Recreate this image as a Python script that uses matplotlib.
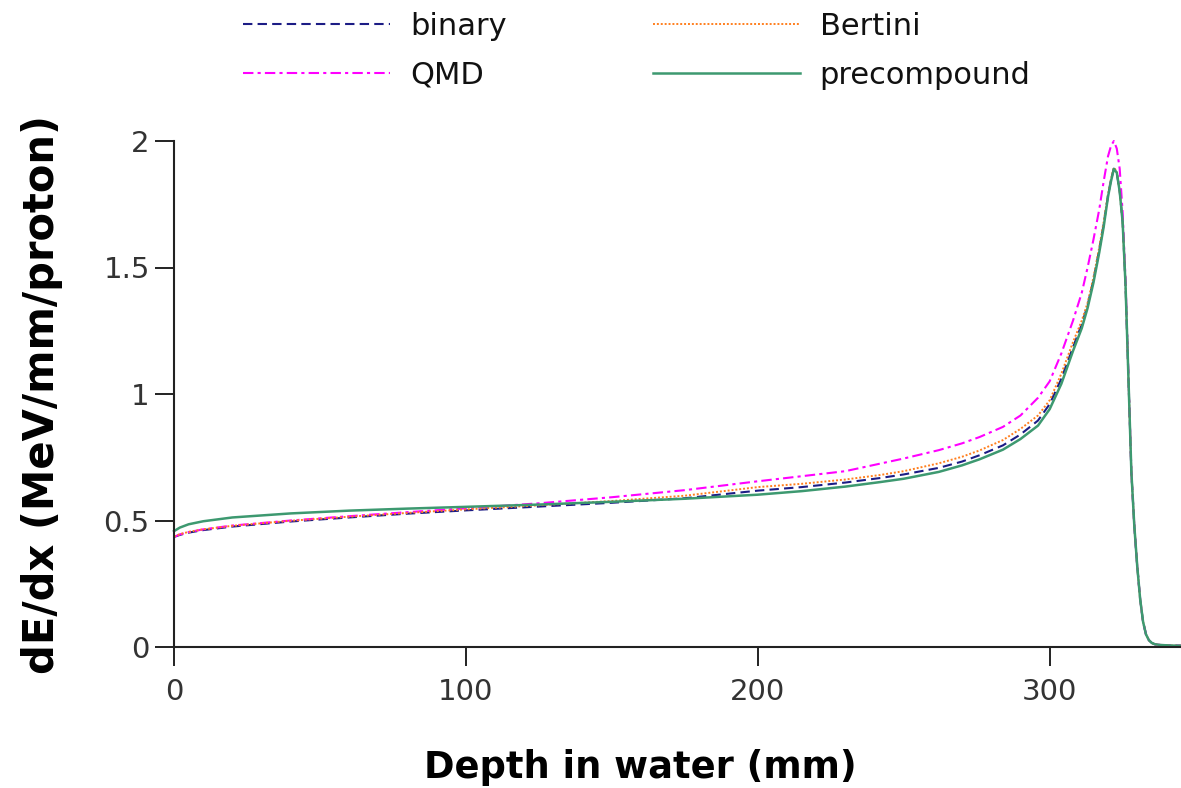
import matplotlib
matplotlib.use("Agg")
import matplotlib.pyplot as plt

# depth in water (mm) and energy deposit per model (MeV/mm/proton)
depth = [0, 2, 5, 10, 20, 40, 60, 80, 100, 125, 150, 175, 200, 215, 230, 242,
         250, 262, 270, 276, 284, 290, 296, 300, 304, 308, 311, 313, 315, 317, 318.5,
         320, 321, 322, 323, 324, 325, 326, 327, 328, 329, 330, 331, 332, 333,
         334, 335, 336, 338, 341, 345]

binary = [0.435, 0.443, 0.452, 0.462, 0.476, 0.496, 0.512, 0.527, 0.540, 0.555,
          0.570, 0.588, 0.618, 0.632, 0.650, 0.668, 0.682, 0.708, 0.733, 0.758,
          0.797, 0.840, 0.895, 0.960, 1.060, 1.185, 1.275, 1.350, 1.450, 1.570,
          1.670, 1.785, 1.845, 1.890, 1.875, 1.800, 1.680, 1.430, 1.060, 0.690,
          0.480, 0.320, 0.190, 0.100, 0.050, 0.027, 0.016, 0.011, 0.008, 0.006, 0.005]

qmd = [0.435, 0.445, 0.454, 0.465, 0.480, 0.500, 0.517, 0.533, 0.548, 0.568,
       0.592, 0.620, 0.655, 0.675, 0.695, 0.725, 0.745, 0.778, 0.805, 0.830,
       0.870, 0.915, 0.985, 1.050, 1.160, 1.290, 1.400, 1.500, 1.610, 1.730,
       1.840, 1.940, 1.980, 2.000, 1.970, 1.890, 1.720, 1.450, 1.070, 0.690,
       0.480, 0.320, 0.190, 0.100, 0.050, 0.027, 0.016, 0.011, 0.008, 0.006, 0.005]

bertini = [0.437, 0.446, 0.455, 0.465, 0.479, 0.499, 0.515, 0.530, 0.544, 0.560,
           0.577, 0.598, 0.632, 0.645, 0.662, 0.680, 0.695, 0.726, 0.752, 0.777,
           0.818, 0.862, 0.915, 0.975, 1.080, 1.205, 1.290, 1.360, 1.460, 1.580,
           1.680, 1.790, 1.850, 1.895, 1.880, 1.800, 1.680, 1.430, 1.060, 0.690,
           0.480, 0.320, 0.190, 0.100, 0.050, 0.027, 0.016, 0.011, 0.008, 0.006, 0.005]

precompound = [0.458, 0.472, 0.485, 0.497, 0.512, 0.528, 0.539, 0.547, 0.554, 0.563,
               0.574, 0.586, 0.602, 0.616, 0.634, 0.652, 0.665, 0.692, 0.718, 0.742,
               0.780, 0.822, 0.875, 0.940, 1.040, 1.170, 1.260, 1.340, 1.440, 1.560,
               1.660, 1.780, 1.840, 1.890, 1.875, 1.800, 1.680, 1.430, 1.060, 0.690,
               0.480, 0.320, 0.190, 0.100, 0.050, 0.027, 0.016, 0.011, 0.008, 0.006, 0.005]

W, H = 1181, 788
fig = plt.figure(figsize=(W / 100, H / 100), dpi=100)
ax = fig.add_axes([174 / W, 1 - 647 / H, 1 - 174 / W, (647 - 141) / H])

ax.plot(depth, binary, color="#1c1c85", lw=1.5, ls=(0, (4.5, 2.5)), label="binary", clip_on=False)
ax.plot(depth, qmd, color="#ff00ff", lw=1.5, ls=(0, (5, 2, 1.5, 2)), label="QMD", clip_on=False)
ax.plot(depth, bertini, color="#ff7f1e", lw=1.4, ls=(0, (1, 1)), label="Bertini", clip_on=False)
ax.plot(depth, precompound, color="#3d9970", lw=1.8, label="precompound", clip_on=False)

ax.set_xlim(0, 345)
ax.set_ylim(0, 2)
ax.set_xticks([0, 100, 200, 300])
ax.set_yticks([0, 0.5, 1, 1.5, 2])
ax.set_yticklabels(["0", "0.5", "1", "1.5", "2"])

for s in ["top", "right"]:
    ax.spines[s].set_visible(False)
for s in ["left", "bottom"]:
    ax.spines[s].set_linewidth(1.5)
    ax.spines[s].set_color("#222222")

ax.tick_params(axis="both", direction="out", length=13.5, width=1.4, color="#222222",
               labelsize=21, labelcolor="#333333", pad=4)
ax.tick_params(axis="x", pad=9)

fig.text(640 / W, 1 - 768 / H, "Depth in water (mm)", ha="center", va="center",
         fontsize=26.5, fontweight="bold")
fig.text(42 / W, 1 - 395 / H, "dE/dx (MeV/mm/proton)", ha="center", va="center",
         rotation=90, fontsize=30, fontweight="bold")

fig.legend(loc="center", bbox_to_anchor=(637 / W, 1 - 51 / H), ncol=2, frameon=False,
           fontsize=22, handlelength=4.8, handletextpad=0.65, columnspacing=4.8,
           labelspacing=0.65, labelcolor="#111111")

fig.savefig("out.png", dpi=100)
